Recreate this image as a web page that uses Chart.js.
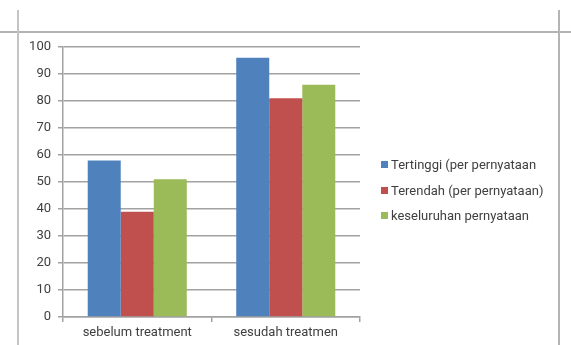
<!DOCTYPE html>
<html lang="id">
<head>
    <meta charset="UTF-8">
    <title>Sebelum dan sesudah treatment</title>
    <script src="https://cdn.jsdelivr.net/npm/chart.js"></script>
    <style>
        body {
            margin: 0;
            background: #fff;
            font-family: Roboto, sans-serif;
        }
        #wrap {
            position: relative;
            width: 571px;
            height: 345px;
            overflow: hidden;
        }
        #chart {
            position: absolute;
            left: 0;
            top: 0;
        }
        .frame {
            position: absolute;
            background: #b4b4b4;
        }
        #legend {
            position: absolute;
            left: 381px;
            top: 152px;
        }
        .legend-row {
            height: 25.5px;
            display: flex;
            align-items: center;
            font-size: 13px;
            color: #3f3f3f;
            white-space: nowrap;
        }
        .legend-box {
            width: 7px;
            height: 7px;
            margin-right: 3px;
        }
    </style>
</head>
<body>
    <div id="wrap">
        <!-- page frame lines around the chart -->
        <div class="frame" style="left:0; top:31px; width:571px; height:2px;"></div>
        <div class="frame" style="left:17px; top:10px; width:2px; height:335px; background:#c4c4c4;"></div>
        <div class="frame" style="left:558px; top:10px; width:2px; height:335px;"></div>
        <canvas id="chart" width="571" height="345"></canvas>
        <div id="legend"></div>
    </div>
    <script type="text/javascript">
        var categories = ['sebelum treatment', 'sesudah treatmen'];
        var seriesNames = ['Tertinggi (per pernyataan', 'Terendah (per pernyataan)', 'keseluruhan pernyataan'];
        var tertinggi = [58, 96];
        var terendah = [39, 81];
        var keseluruhan = [51, 86];
        var seriesColors = ['#4f81bd', '#c0504d', '#9bbb59'];

        var gridColor = '#a2a2a2';
        var textColor = '#3f3f3f';

        var datasets = [tertinggi, terendah, keseluruhan].map(function(values, i) {
            return {
                label: seriesNames[i],
                data: values,
                backgroundColor: seriesColors[i],
                borderWidth: 0,
                categoryPercentage: 0.667,
                barPercentage: 1.0
            };
        });

        var ctx = document.getElementById('chart').getContext('2d');
        var chart = new Chart(ctx, {
            type: 'bar',
            data: {
                labels: categories,
                datasets: datasets
            },
            options: {
                responsive: false,
                animation: false,
                layout: {
                    padding: { left: 0, top: 47, right: 211, bottom: 0 }
                },
                plugins: {
                    legend: { display: false },
                    tooltip: { enabled: false }
                },
                scales: {
                    x: {
                        grid: {
                            offset: true,
                            drawOnChartArea: false,
                            color: gridColor,
                            lineWidth: 1.5,
                            tickLength: 5
                        },
                        border: { color: gridColor, width: 1.5 },
                        ticks: {
                            color: textColor,
                            padding: 3,
                            font: { family: 'Roboto', size: 13 }
                        },
                        afterFit: function(scale) {
                            scale.height = 28;
                        }
                    },
                    y: {
                        min: 0,
                        max: 100,
                        grid: {
                            color: gridColor,
                            lineWidth: 1.5,
                            tickLength: 5
                        },
                        border: { color: gridColor, width: 1.5 },
                        ticks: {
                            stepSize: 10,
                            color: textColor,
                            padding: 7,
                            font: { family: 'Roboto', size: 13 }
                        },
                        afterFit: function(scale) {
                            scale.width = 63;
                        }
                    }
                }
            }
        });

        // legend built from the datasets
        var legendEl = document.getElementById('legend');
        chart.data.datasets.forEach(function(ds) {
            var row = document.createElement('div');
            row.className = 'legend-row';
            var box = document.createElement('span');
            box.className = 'legend-box';
            box.style.background = ds.backgroundColor;
            var label = document.createElement('span');
            label.textContent = ds.label;
            row.appendChild(box);
            row.appendChild(label);
            legendEl.appendChild(row);
        });
    </script>
</body>
</html>
